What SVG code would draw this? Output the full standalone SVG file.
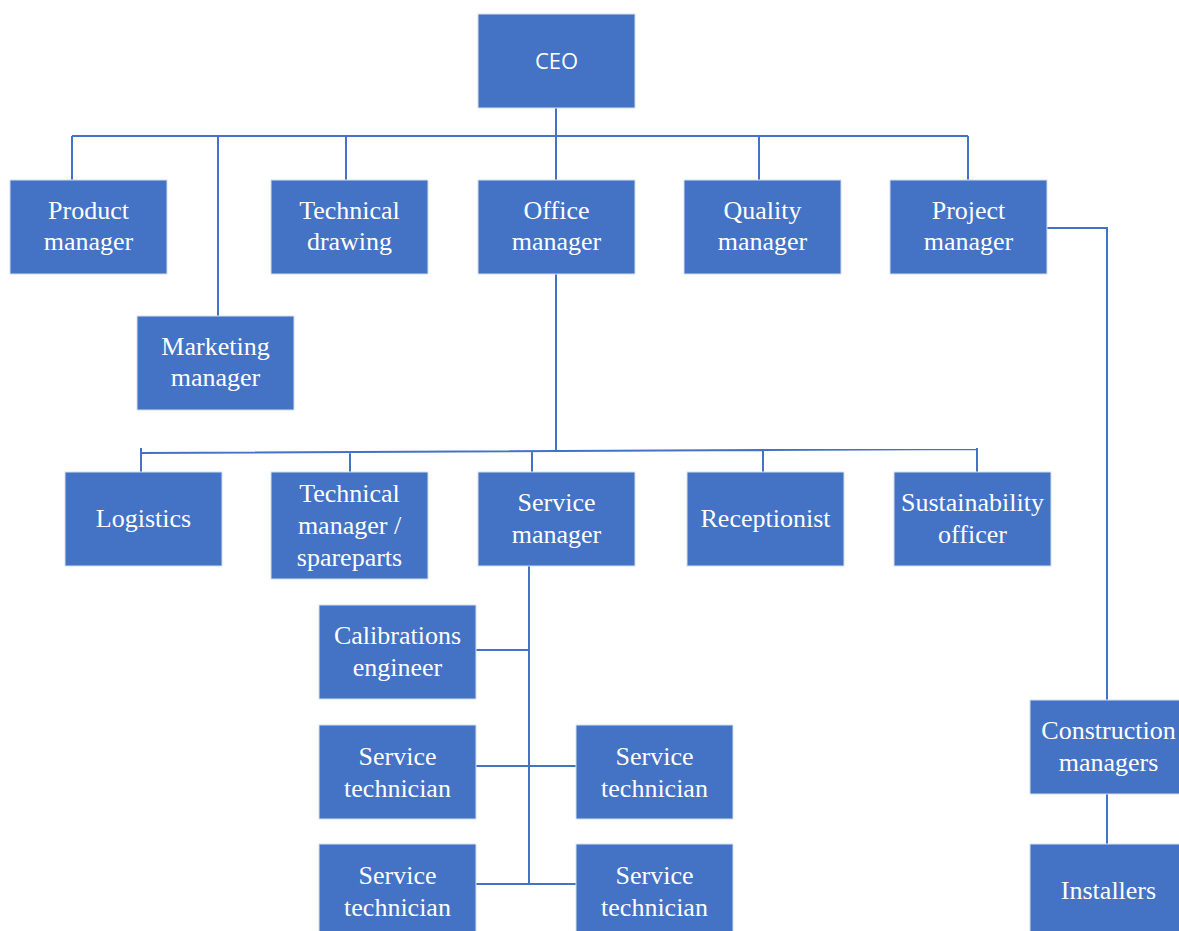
<svg xmlns="http://www.w3.org/2000/svg" width="1179" height="931" viewBox="0 0 1179 931">
<style>
.box{fill:#4472C4;stroke:#d5dff0;stroke-width:1}
.t{font-family:"Liberation Serif","Times New Roman",serif;font-size:26px;fill:#ffffff;text-anchor:middle}
.s{font-family:"Open Sans","Liberation Sans",sans-serif;font-size:22px;fill:#ffffff;text-anchor:middle}
.ln{fill:none;stroke:#4472C4;stroke-width:2}
</style>
<rect width="1179" height="931" fill="#ffffff"/>
<g id="connectors">
<path class="ln" d="M556 108V136M72 136H968M72 136V180M218 136V316M346 136V180M556 136V180M759 136V180M968 136V180"/>
<path class="ln" d="M556 274V451"/>
<path class="ln" d="M141 453L977 449M141 448V472M350 452V472M532 451V472M763 450V472M977 448V472"/>
<path class="ln" d="M529 566V884M476 650H529M476 766H576M476 884H576"/>
<path class="ln" d="M1047 228H1107V700M1107 794V844"/>
</g>
<g id="ceo"><rect class="box" x="478" y="14" width="157" height="94"/><text class="s" x="556.5" y="69">CEO</text></g>
<g id="product-manager"><rect class="box" x="10" y="180" width="157" height="94"/><text class="t" x="88.5" y="219">Product</text><text class="t" x="88.5" y="250">manager</text></g>
<g id="technical-drawing"><rect class="box" x="271" y="180" width="157" height="94"/><text class="t" x="349.5" y="219">Technical</text><text class="t" x="349.5" y="250">drawing</text></g>
<g id="office-manager"><rect class="box" x="478" y="180" width="157" height="94"/><text class="t" x="556.5" y="219">Office</text><text class="t" x="556.5" y="250">manager</text></g>
<g id="quality-manager"><rect class="box" x="684" y="180" width="157" height="94"/><text class="t" x="762.5" y="219">Quality</text><text class="t" x="762.5" y="250">manager</text></g>
<g id="project-manager"><rect class="box" x="890" y="180" width="157" height="94"/><text class="t" x="968.5" y="219">Project</text><text class="t" x="968.5" y="250">manager</text></g>
<g id="marketing-manager"><rect class="box" x="137" y="316" width="157" height="94"/><text class="t" x="215.5" y="355">Marketing</text><text class="t" x="215.5" y="386">manager</text></g>
<g id="logistics"><rect class="box" x="65" y="472" width="157" height="94"/><text class="t" x="143.5" y="527">Logistics</text></g>
<g id="technical-manager"><rect class="box" x="271" y="472" width="157" height="107"/><text class="t" x="349.5" y="502">Technical</text><text class="t" x="349.5" y="534">manager /</text><text class="t" x="349.5" y="566">spareparts</text></g>
<g id="service-manager"><rect class="box" x="478" y="472" width="157" height="94"/><text class="t" x="556.5" y="511">Service</text><text class="t" x="556.5" y="543">manager</text></g>
<g id="receptionist"><rect class="box" x="687" y="472" width="157" height="94"/><text class="t" x="765.5" y="527">Receptionist</text></g>
<g id="sustainability-officer"><rect class="box" x="894" y="472" width="157" height="94"/><text class="t" x="972.5" y="511">Sustainability</text><text class="t" x="972.5" y="543">officer</text></g>
<g id="calibrations-engineer"><rect class="box" x="319" y="605" width="157" height="94"/><text class="t" x="397.5" y="644">Calibrations</text><text class="t" x="397.5" y="676">engineer</text></g>
<g id="service-technician-1"><rect class="box" x="319" y="725" width="157" height="94"/><text class="t" x="397.5" y="765">Service</text><text class="t" x="397.5" y="797">technician</text></g>
<g id="service-technician-2"><rect class="box" x="576" y="725" width="157" height="94"/><text class="t" x="654.5" y="765">Service</text><text class="t" x="654.5" y="797">technician</text></g>
<g id="service-technician-3"><rect class="box" x="319" y="844" width="157" height="94"/><text class="t" x="397.5" y="884">Service</text><text class="t" x="397.5" y="916">technician</text></g>
<g id="service-technician-4"><rect class="box" x="576" y="844" width="157" height="94"/><text class="t" x="654.5" y="884">Service</text><text class="t" x="654.5" y="916">technician</text></g>
<g id="construction-managers"><rect class="box" x="1030" y="700" width="157" height="94"/><text class="t" x="1108.5" y="739">Construction</text><text class="t" x="1108.5" y="771">managers</text></g>
<g id="installers"><rect class="box" x="1030" y="844" width="157" height="94"/><text class="t" x="1108.5" y="899">Installers</text></g>
</svg>
